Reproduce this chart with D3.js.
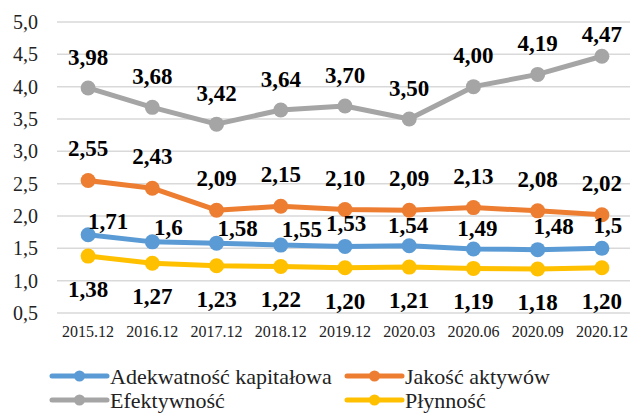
<!DOCTYPE html>
<html><head><meta charset="utf-8">
<script src="https://cdn.jsdelivr.net/npm/d3@7"></script>
<style>body{margin:0;background:#fff}svg{display:block}</style>
</head><body><svg id="c" width="630" height="414"></svg>
<script>
const categories = ["2015.12","2016.12","2017.12","2018.12","2019.12","2020.03","2020.06","2020.09","2020.12"];
const adekwatnosc = [1.71,1.60,1.58,1.55,1.53,1.54,1.49,1.48,1.50];
const adekwatnoscLabels = ["1,71","1,6","1,58","1,55","1,53","1,54","1,49","1,48","1,5"];
const jakosc = [2.55,2.43,2.09,2.15,2.10,2.09,2.13,2.08,2.02];
const efektywnosc = [3.98,3.68,3.42,3.64,3.70,3.50,4.00,4.19,4.47];
const plynnosc = [1.38,1.27,1.23,1.22,1.20,1.21,1.19,1.18,1.20];
const yTicks = [0.5,1.0,1.5,2.0,2.5,3.0,3.5,4.0,4.5,5.0];
const seriesNames = ["Adekwatność kapitałowa","Jakość aktywów","Efektywność","Płynność"];
const colors = ["#5B9BD5","#ED7D31","#A5A5A5","#FFC000"];

const FONT = "Liberation Serif, serif";
const fmt = v => v.toFixed(2).replace(".", ",");
// label placements relative to points
const blueOff = [[20,-6],[16,-7],[21,-7],[21,-8],[1,-15],[-1,-13],[4,-13],[16,-16],[6,-15]];
const grayDy = [-23,-23,-23,-23,-23,-23,-24,-23,-14];

const svg = d3.select("#c");
const x = d3.scaleBand().domain(categories).range([56, 634]);
const y = d3.scaleLinear().domain([0.5, 5.0]).range([313, 22]);
const cx = c => x(c) + x.bandwidth()/2;

// grid
svg.append("g").selectAll("line").data(yTicks).join("line")
  .attr("x1", 57).attr("x2", 634).attr("y1", d => y(d)).attr("y2", d => y(d))
  .attr("stroke", "#D9D9D9").attr("stroke-width", 1.5);

// y axis labels
svg.append("g").selectAll("text").data(yTicks).join("text")
  .attr("x", 38).attr("y", d => y(d)).attr("dy", "0.35em")
  .attr("text-anchor", "end")
  .style("font-family", FONT)
  .style("font-size", "20px").attr("fill", "#222")
  .text(d => d.toFixed(1).replace(".", ","));

// x axis labels
svg.append("g").selectAll("text").data(categories).join("text")
  .attr("x", d => cx(d)).attr("y", 337)
  .attr("text-anchor", "middle")
  .style("font-family", FONT)
  .style("font-size", "16px").attr("fill", "#222")
  .text(d => d);

const series = [
  {name: seriesNames[0], values: adekwatnosc, color: colors[0]},
  {name: seriesNames[1], values: jakosc, color: colors[1]},
  {name: seriesNames[2], values: efektywnosc, color: colors[2]},
  {name: seriesNames[3], values: plynnosc, color: colors[3]}
];
const line = d3.line().x((d,i) => cx(categories[i])).y(d => y(d));

// draw order: yellow, blue, orange, gray
[3,0,1,2].forEach(si => {
  const s = series[si];
  const g = svg.append("g");
  g.append("path").datum(s.values).attr("d", line)
    .attr("fill", "none").attr("stroke", s.color).attr("stroke-width", 5)
    .attr("stroke-linejoin", "round");
  g.selectAll("circle").data(s.values).join("circle")
    .attr("cx", (d,i) => cx(categories[i])).attr("cy", d => y(d)).attr("r", 7.5)
    .attr("fill", s.color);
});

const lblStyle = sel => sel
  .style("font-family", FONT)
  .style("font-size", "23px").style("font-weight", "bold").attr("fill", "#000")
  .attr("text-anchor", "middle");

// gray labels above
svg.append("g").selectAll("text").data(efektywnosc).join("text")
  .attr("x", (d,i) => cx(categories[i])).attr("y", (d,i) => y(d) + grayDy[i])
  .call(lblStyle).text(fmt);
// orange labels above
svg.append("g").selectAll("text").data(jakosc).join("text")
  .attr("x", (d,i) => cx(categories[i])).attr("y", d => y(d) - 24)
  .call(lblStyle).text(fmt);
// blue labels
svg.append("g").selectAll("text").data(adekwatnosc).join("text")
  .attr("x", (d,i) => cx(categories[i]) + blueOff[i][0]).attr("y", (d,i) => y(d) + blueOff[i][1])
  .call(lblStyle).text((d,i) => adekwatnoscLabels[i]);
// yellow labels below
svg.append("g").selectAll("text").data(plynnosc).join("text")
  .attr("x", (d,i) => cx(categories[i])).attr("y", d => y(d) + 41)
  .call(lblStyle).text(fmt);

// legend
const legPos = [[52,376],[347,376],[52,400],[347,400]];
series.forEach((s, i) => {
  const [lx, ly] = legPos[i];
  const g = svg.append("g");
  g.append("line").attr("x1", lx).attr("x2", lx + 55).attr("y1", ly).attr("y2", ly)
    .attr("stroke", s.color).attr("stroke-width", 5).attr("stroke-linecap", "round");
  g.append("circle").attr("cx", lx + 27.5).attr("cy", ly).attr("r", 5.5).attr("fill", s.color);
  g.append("text").attr("x", lx + 58).attr("y", ly).attr("dy", "0.35em")
    .style("font-family", FONT)
    .style("font-size", "22px").attr("fill", "#222").text(s.name);
});
</script></body></html>
